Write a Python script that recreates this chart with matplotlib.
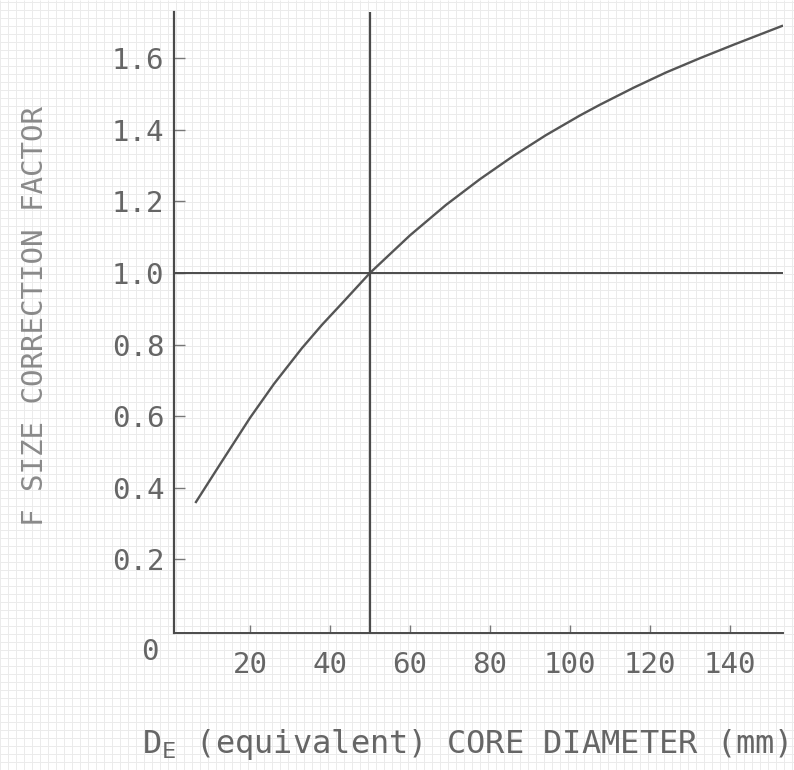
import matplotlib
matplotlib.use("Agg")
import matplotlib.pyplot as plt
import numpy as np

# core diameter (mm) vs size correction factor
diameter = [6.5, 12.5, 20, 26, 33, 38, 43, 50, 60, 69, 77.5, 86, 94, 102.5,
            107.5, 116, 124, 132.5, 141, 153]
factor = [0.36, 0.465, 0.595, 0.69, 0.79, 0.855, 0.915, 1.00, 1.105, 1.19,
          1.262, 1.328, 1.385, 1.44, 1.47, 1.518, 1.56, 1.60, 1.638, 1.69]

REF_D = 50      # reference diameter
REF_F = 1.0     # reference factor
x_ticks = [20, 40, 60, 80, 100, 120, 140]
y_ticks = [0.2, 0.4, 0.6, 0.8, 1.0, 1.2, 1.4, 1.6]

FONT = "DejaVu Sans Mono"
INK = "#4a4a4a"
TXT = "#666666"

fig = plt.figure(figsize=(7.94, 7.70), dpi=100)

# faint graph-paper background
bg = fig.add_axes([0, 0, 1, 1], zorder=-5)
bg.set_xlim(0, 794)
bg.set_ylim(0, 770)
bg.vlines(np.arange(0, 794, 8), 0, 770, color="#ebebeb", lw=0.7)
bg.hlines(np.arange(0, 770, 8), 0, 794, color="#ebebeb", lw=0.7)
bg.axis("off")

ax = fig.add_axes([0.2191, 0.1779, 0.767, 0.8065])
ax.patch.set_alpha(0)
ax.plot(diameter, factor, color="#555555", lw=1.7)
ax.axvline(REF_D, color=INK, lw=1.6)
ax.axhline(REF_F, color=INK, lw=1.4)

ax.set_xlim(1, 153.25)
ax.set_ylim(-0.006, 1.729)
ax.set_xticks(x_ticks)
ax.set_yticks(y_ticks)
ax.set_xticklabels([str(v) for v in x_ticks], family=FONT, fontsize=21, color=TXT)
ax.set_yticklabels([f"{v:.1f}" for v in y_ticks], family=FONT, fontsize=21, color=TXT)
ax.tick_params(axis="x", direction="in", length=6, width=1, color="#777777", pad=13)
ax.tick_params(axis="y", direction="in", length=8, width=1, color="#777777", pad=7)

for side in ("top", "right"):
    ax.spines[side].set_visible(False)
ax.spines["left"].set_color(INK)
ax.spines["left"].set_linewidth(1.6)
ax.spines["bottom"].set_color(INK)
ax.spines["bottom"].set_linewidth(1.4)

ax.text(-5, -0.06, "0", family=FONT, fontsize=21, color=TXT,
        ha="center", va="center", clip_on=False)

fig.text(0.044, 0.59, "F SIZE CORRECTION FACTOR", rotation=90, family=FONT,
         fontsize=21, color="#8a8a8a", ha="center", va="center")
fig.text(0.586, 0.033, r"D$_{\mathsf{E}}$ (equivalent) CORE DIAMETER (mm)",
         family=FONT, fontsize=23, color=TXT, ha="center", va="center")

fig.savefig("out.png", dpi=100)
